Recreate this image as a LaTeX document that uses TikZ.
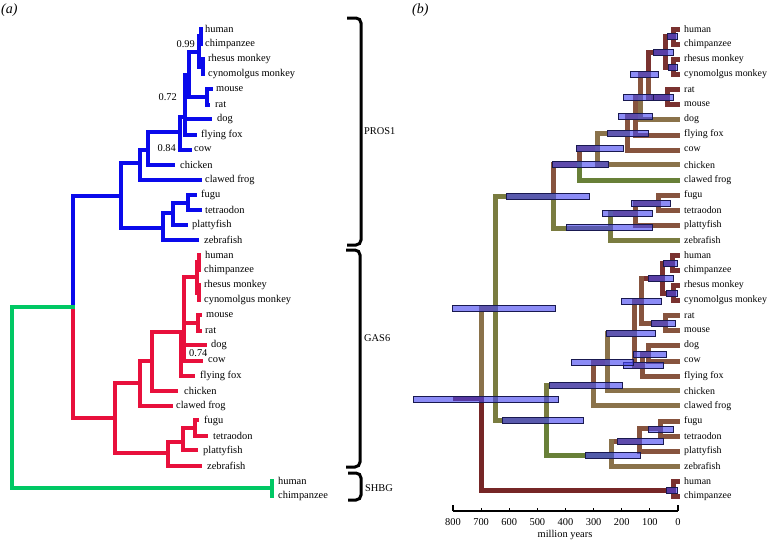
\documentclass[tikz,border=0pt]{standalone}
\usepackage{fontspec}
\setmainfont{Liberation Serif}
\usepackage{tikz}
\usetikzlibrary{positioning}
\definecolor{TreeBlue}  {RGB}{10,  10,  235}
\definecolor{TreeRed}   {RGB}{232, 16,  60}
\definecolor{TreeGreen} {RGB}{0,   200, 100}
\definecolor{RateRed}   {RGB}{122, 50,  48}
\definecolor{RateDark}  {RGB}{118, 38,  38}
\definecolor{RateBrown} {RGB}{135, 84,  62}
\definecolor{RateTan}   {RGB}{138, 114, 74}
\definecolor{RateOlive} {RGB}{122, 124, 64}
\definecolor{RateGreen} {RGB}{104, 128, 56}
\definecolor{BarFill}   {RGB}{70,  70,  240}
\definecolor{BarLine}   {RGB}{25,  25,  80}

\begin{document}
\begin{tikzpicture}[
  x=1pt, y=-1pt,
  font=\fontsize{10.4}{12.5}\selectfont,
  leaf/.style = {anchor=west, inner sep=0pt},
  support/.style = {inner sep=0pt},
  clade/.style = {anchor=west, inner sep=0pt},
  panel/.style = {anchor=west, inner sep=0pt, font=\fontsize{14}{16}\selectfont\itshape},
  mltree/.style = {line width=4pt, line cap=rect},
  rate/.style = {line width=5pt, line cap=rect},
  hpd/.style = {draw=BarLine, line width=0.6pt, fill=BarFill, fill opacity=0.62},
  bracket/.style = {line width=3pt, rounded corners=5pt},
  axis/.style = {line width=1.6pt}
]
\useasboundingbox (0,0) rectangle (768,541);

% Panel labels
\node[panel] (pa) at (1,10) {(a)};
\node[panel] (pb) at (412,10) {(b)};

% (a) PROS1 clade
\draw[mltree, TreeBlue]
  (73,307) -- (73,196) -- (121,196)
  (121,163) -- (121,228) -- (163,228)
  (163,213) -- (163,240) -- (197,240)
  (163,213) -- (173,213)
  (173,203) -- (173,225) -- (186,225)
  (173,203) -- (188,203)
  (188,195) -- (188,210) -- (200,210)
  (188,195) -- (195,195)
  (121,163) -- (140,163)
  (140,150) -- (140,180) -- (200,180)
  (140,150) -- (148,150)
  (148,132) -- (148,165) -- (173,165)
  (148,132) -- (180,132)
  (180,117) -- (180,150) -- (190,150)
  (180,117) -- (185,117)
  (185,75) -- (185,135) -- (195,135)
  (185,119) -- (210,119)
  (185,75) -- (189,75)
  (189,52) -- (189,97) -- (207,97)
  (207,89) -- (207,105) -- (208,105)
  (207,89) -- (211,89)
  (189,52) -- (199,52)
  (199,36) -- (199,67)
  (199,36) -- (201,36)
  (201,29) -- (201,44)
  (199,67) -- (203,67)
  (203,59) -- (203,74);

% (a) GAS6 clade
\draw[mltree, TreeRed]
  (73,307) -- (73,418) -- (115,418)
  (115,383) -- (115,453) -- (168,453)
  (168,442) -- (168,466) -- (200,466)
  (168,442) -- (183,442)
  (183,428) -- (183,450) -- (196,450)
  (183,428) -- (195,428)
  (195,420) -- (195,436) -- (206,436)
  (195,420) -- (197,420)
  (115,383) -- (140,383)
  (140,361) -- (140,406) -- (171,406)
  (140,361) -- (152,361)
  (152,332) -- (152,391) -- (176,391)
  (152,332) -- (181,332)
  (181,332) -- (181,376) -- (193,376)
  (184,277) -- (184,361) -- (201,361)
  (184,345) -- (205,345)
  (184,323) -- (198,323)
  (198,315) -- (198,331) -- (200,331)
  (198,315) -- (200,315)
  (184,277) -- (197,277)
  (197,262) -- (197,293)
  (197,262) -- (199,262)
  (199,255) -- (199,270)
  (197,293) -- (199,293)
  (199,285) -- (199,300);

% (a) SHBG outgroup
\draw[mltree, TreeGreen]
  (73,307) -- (12,307) -- (12,488) -- (272,488)
  (272,481) -- (272,496);

% (a) support values
\node[support, anchor=east] (s1) at (195,44) {0.99};
\node[support, anchor=east] (s2) at (177,97) {0.72};
\node[support, anchor=east] (s3) at (176,148) {0.84};
\node[support, anchor=west] (s4) at (189,353) {0.74};

% (a) leaf names
\foreach \name/\x [count=\i from 0] in {human/205, chimpanzee/205,
    rhesus monkey/208, cynomolgus monkey/208, mouse/216, rat/215,
    dog/217, flying fox/201, cow/194, chicken/180, clawed frog/205,
    fugu/201, tetraodon/205, plattyfish/192, zebrafish/204,
    human/205, chimpanzee/204, rhesus monkey/204, cynomolgus monkey/204,
    mouse/206, rat/205, dog/211, cow/208, flying fox/200, chicken/184,
    clawed frog/176, fugu/204, tetraodon/213, plattyfish/203,
    zebrafish/207, human/278, chimpanzee/278}
  \node[leaf] (ma\i) at (\x,{29+15.07*\i}) {\name};

% Gene brackets
\draw[bracket] (347,18) -- (361,18) -- (361,245) -- (347,245);
\node[clade] (pros) at (364,131) {PROS1};
\draw[bracket] (346,250) -- (360,250) -- (360,467) -- (346,467);
\node[clade] (gas) at (364,338) {GAS6};
\draw[bracket] (348,473) -- (361,473) -- (361,500) -- (348,500);
\node[clade] (shbg) at (365,488) {SHBG};

% (b) chronogram, coloured by rate
\draw[rate, RateRed]
  (677,29) -- (673,29) -- (673,44) -- (677,44)
  (665,36.5) -- (673,36.5)
  (677,59) -- (673,59) -- (673,74) -- (677,74)
  (665,67) -- (673,67)
  (665,36.5) -- (665,67)
  (648,52) -- (665,52)
  (648,52) -- (648,74)
  (648,97) -- (667,97)
  (677,89) -- (667,89) -- (667,104) -- (677,104)
  (677,255) -- (672,255) -- (672,270) -- (677,270)
  (662,263) -- (672,263)
  (677,285) -- (673,285) -- (673,300) -- (677,300)
  (662,293) -- (673,293)
  (662,263) -- (662,293)
  (641,278) -- (662,278)
  (677,481) -- (673,481) -- (673,496) -- (677,496);

\draw[rate, RateBrown]
  (648,74) -- (648,97)
  (640,74) -- (648,74)
  (640,74) -- (640,96.5)
  (635,96.5) -- (640,96.5)
  (635,96.5) -- (635,135) -- (677,135)
  (627,116) -- (635,116)
  (627,116) -- (627,150) -- (677,150)
  (579,148) -- (597,148)
  (579,148) -- (579,164)
  (553,164) -- (579,164)
  (553,164) -- (553,196)
  (610,213) -- (635,213)
  (635,203) -- (635,225) -- (677,225)
  (635,203) -- (658,203)
  (677,195) -- (658,195) -- (658,210) -- (677,210)
  (665,323) -- (641,323) -- (641,278)
  (677,315) -- (665,315) -- (665,330) -- (677,330)
  (634,301) -- (641,301)
  (634,301) -- (634,365) -- (642,365)
  (642,354) -- (642,376) -- (677,376)
  (642,354) -- (648,354)
  (677,345) -- (648,345) -- (648,361) -- (677,361)
  (593,362) -- (607,362)
  (593,362) -- (593,385)
  (611,441) -- (639,441)
  (639,428) -- (639,451) -- (677,451)
  (639,428) -- (660,428)
  (677,421) -- (660,421) -- (660,436) -- (677,436);

\draw[rate, RateTan]
  (640,96.5) -- (640,119) -- (677,119)
  (597,133) -- (627,133)
  (597,133) -- (597,164.6) -- (677,164.6)
  (481,308) -- (495,308)
  (481,308) -- (481,398)
  (546,385) -- (593,385)
  (593,385) -- (593,405) -- (677,405)
  (607,333) -- (634,333)
  (607,333) -- (607,390) -- (677,390)
  (611,441) -- (611,466) -- (677,466);

\draw[rate, RateOlive]
  (553,196) -- (553,228) -- (610,228)
  (610,213) -- (610,240) -- (677,240)
  (495,196) -- (553,196)
  (495,196) -- (495,420) -- (546,420)
  (546,385) -- (546,420);

\draw[rate, RateGreen]
  (579,164) -- (579,180) -- (677,180)
  (546,420) -- (546,455) -- (611,455);

\draw[rate, RateDark]
  (455,398) -- (481,398) -- (481,490) -- (673,490);

% (b) 95% HPD intervals of node ages
\foreach \y/\a/\b in {36.5/667/677, 67/668/677, 52/653/673, 97/653/673,
    74/630/658, 97/623/653, 116/618/652, 133/607/648, 148/576/623,
    164/552/608, 196/506/589, 227/566/652, 213/602/652, 203/631/670,
    263/663/677, 293/666/677, 278/648/673, 323/651/675, 301/621/661,
    354/633/666, 365/623/663, 333/606/655, 362/571/633, 385/549/622,
    420/502/583, 455/585/640, 441/617/663, 429/648/673,
    308/452/555, 399/413/558, 490/666/677}
  \draw[hpd] (\a,\y-2.8) rectangle (\b,\y+2.8);

% (b) leaf names
\foreach \name [count=\i from 0] in {human, chimpanzee, rhesus monkey,
    cynomolgus monkey, rat, mouse, dog, flying fox, cow, chicken,
    clawed frog, fugu, tetraodon, plattyfish, zebrafish,
    human, chimpanzee, rhesus monkey, cynomolgus monkey, rat, mouse,
    dog, cow, flying fox, chicken, clawed frog, fugu, tetraodon,
    plattyfish, zebrafish, human, chimpanzee}
  \node[leaf, font=\fontsize{9.9}{12}\selectfont] (mb\i) at (684,{29+15.07*\i}) {\name};

% Time axis
\draw[axis] (453,511) -- (678,511);
\draw[axis] (453,511) -- (453,505);
\draw[axis] (678,511) -- (678,505);
\foreach \t in {100,200,...,700}
  \draw[line width=1pt] ({678-0.28125*\t},511) -- ++(0,-3);
\foreach \t in {0,100,...,800}
  \node (tick\t) at ({678-0.28125*\t},522) {\t};
\node (timelabel) at (565,535) {million years};

\end{tikzpicture}
\end{document}
